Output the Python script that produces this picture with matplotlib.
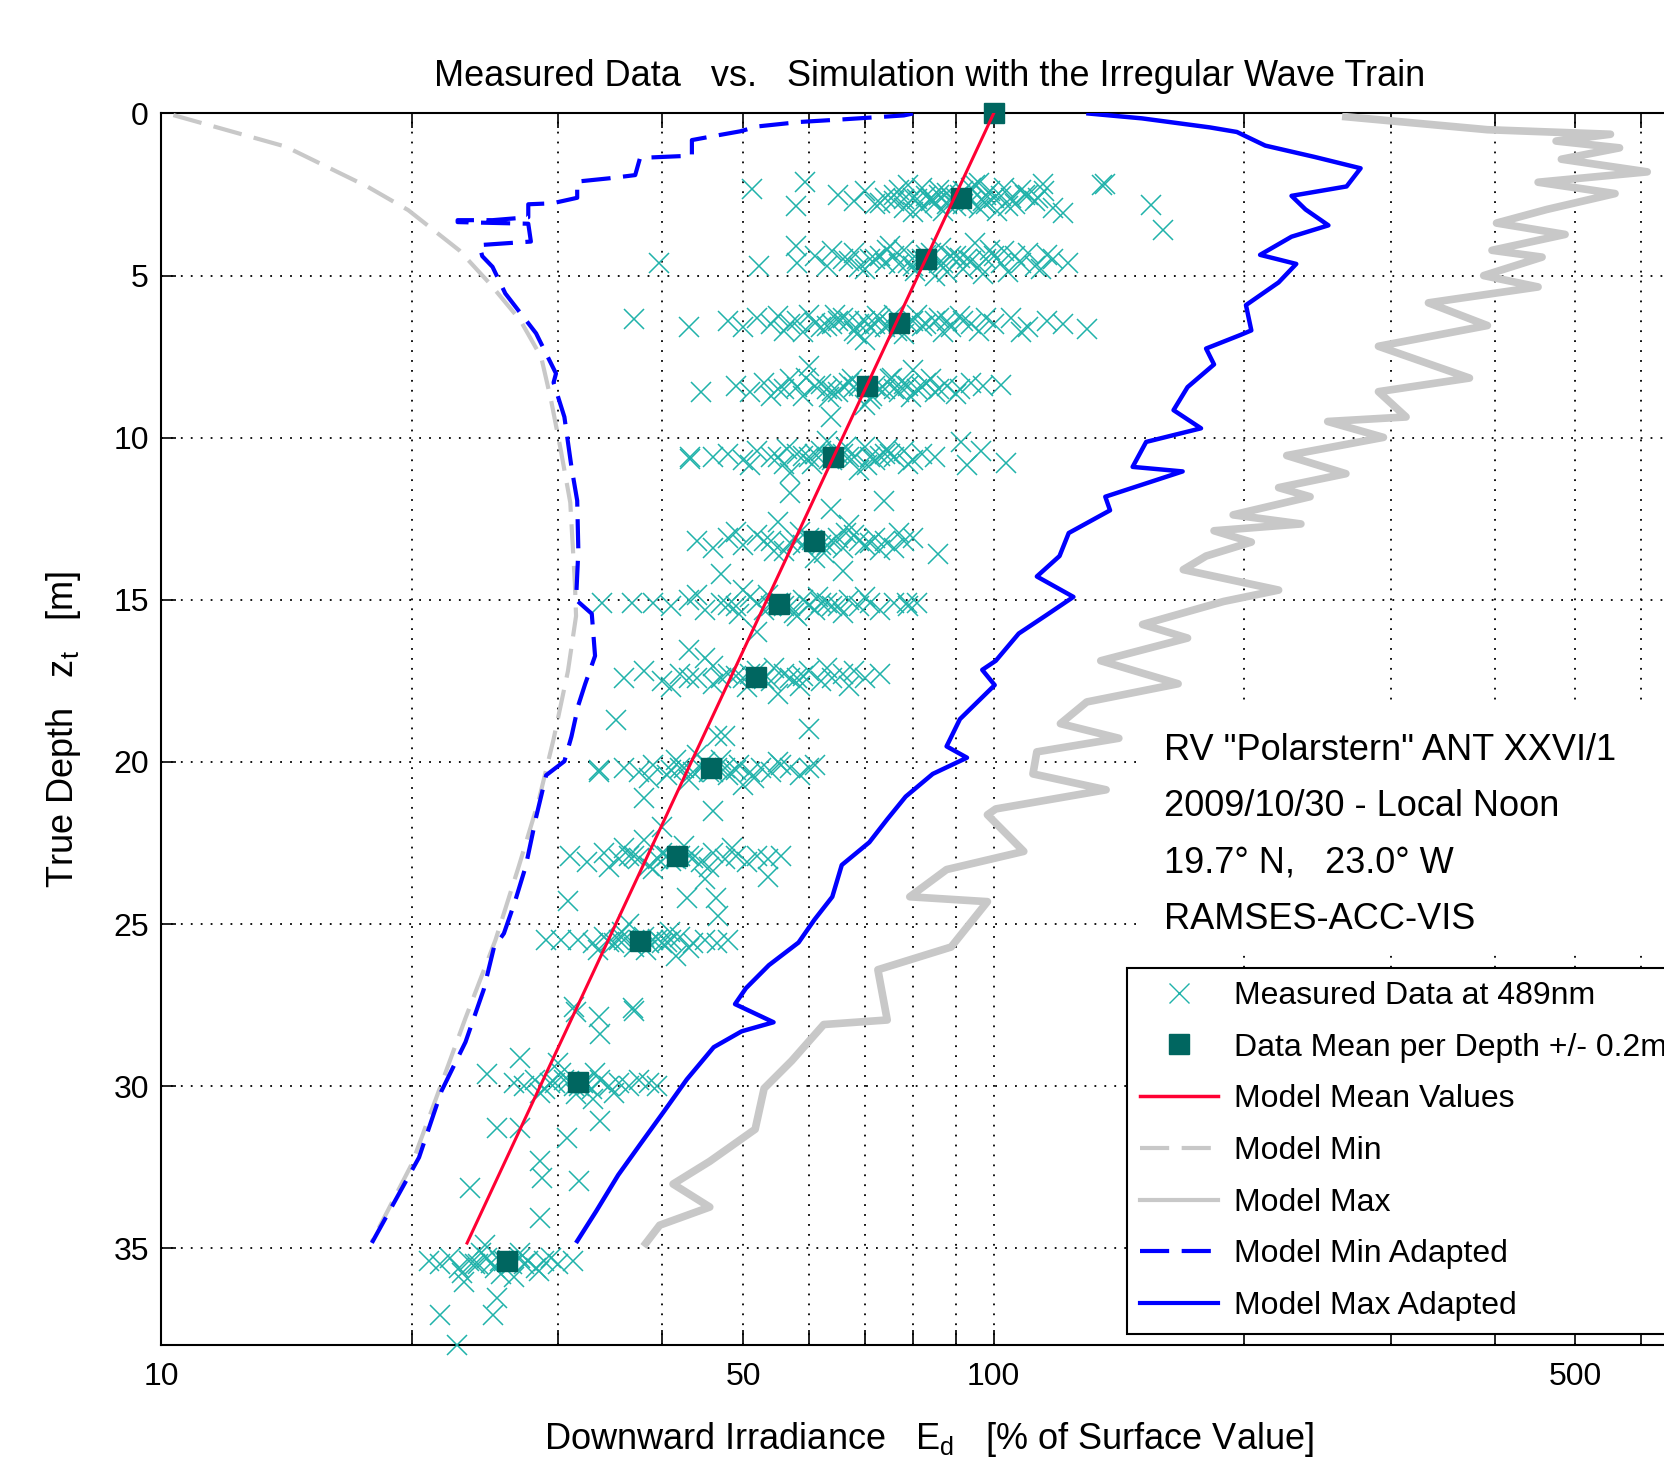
import matplotlib
matplotlib.use("Agg")
import matplotlib.pyplot as plt
from matplotlib.patches import Rectangle
from matplotlib.lines import Line2D
from matplotlib.ticker import NullLocator

plt.rcParams['font.family'] = ['Liberation Sans', 'DejaVu Sans']
plt.rcParams['mathtext.fontset'] = 'custom'
plt.rcParams['mathtext.rm'] = 'Liberation Sans'

# measured data at 489nm, grouped by depth level (x = % of surface, d = depth m)
meas_x_l1 = [65, 68, 70, 72, 74, 76, 78, 80, 82, 84, 86, 88, 90, 92, 94, 96, 98, 100, 103, 106,
             109, 112, 115, 118, 79, 87, 95, 101, 84, 91, 76, 99,
             81, 83, 85, 89, 93, 97, 102, 88, 92, 78, 105, 110,
             73, 77, 82, 86, 90, 94, 98, 104, 108, 113, 80, 96,
             51.2, 59.3, 57.9, 121, 136, 135, 154.5, 159.6, 114.5]
meas_d_l1 = [2.5, 2.7, 2.4, 2.8, 2.6, 2.5, 2.9, 2.6, 2.3, 2.7, 2.5, 2.8, 2.6, 2.4, 2.7, 2.9, 2.5, 2.6, 2.3, 2.8,
             2.5, 2.7, 2.4, 2.9, 2.2, 3.0, 2.2, 3.0, 2.6, 2.5, 2.7, 2.4,
             2.65, 2.55, 2.75, 2.6, 2.5, 2.7, 2.55, 2.45, 2.8, 2.65, 2.6, 2.5,
             2.75, 2.35, 2.9, 2.35, 2.85, 2.3, 2.8, 2.85, 2.35, 2.6, 3.05, 2.15,
             2.32, 2.1, 2.86, 3.08, 2.18, 2.22, 2.82, 3.59, 2.19]
meas_x_l2 = [58, 61, 63, 66, 68, 70, 72, 74, 76, 78, 80, 82, 84, 86, 88, 90, 93, 96, 99, 102,
             106, 110, 114, 118, 123, 75, 85, 95, 71, 79, 89, 104,
             67, 73, 77, 81, 83, 87, 91, 94, 98, 100, 108,
             64, 69, 74.5, 80.5, 86.5, 92, 97, 103, 112, 116,
             39.6, 52.2, 57.9]
meas_d_l2 = [4.6, 4.4, 4.7, 4.5, 4.3, 4.8, 4.5, 4.6, 4.4, 4.2, 4.7, 4.5, 4.3, 4.6, 4.9, 4.4, 4.5, 4.7, 4.2, 4.6,
             4.4, 4.3, 4.8, 4.5, 4.6, 4.1, 5.0, 4.0, 4.5, 4.6, 4.4, 4.9,
             4.55, 4.4, 4.65, 4.5, 4.35, 4.6, 4.45, 4.55, 4.5, 4.4, 4.6,
             4.25, 4.75, 4.2, 4.85, 4.15, 4.8, 4.95, 4.25, 4.7, 4.35,
             4.6, 4.7, 4.1]
meas_x_l3 = [48, 50, 52, 54, 56, 58, 60, 62, 64, 66, 68, 70, 72, 74, 76, 78, 80, 83, 86, 89,
             92, 96, 100, 105, 110, 116, 121, 70, 57, 65, 75, 88,
             61, 63, 67, 69, 71, 73, 77, 79, 82, 85, 94,
             55, 59, 64.5, 68.5, 72.5, 76.5, 81, 87, 91, 98, 108,
             37.0, 43.0, 129.5]
meas_d_l3 = [6.4, 6.6, 6.3, 6.5, 6.7, 6.4, 6.2, 6.6, 6.5, 6.3, 6.7, 6.4, 6.5, 6.6, 6.2, 6.8, 6.4, 6.5, 6.3, 6.6,
             6.4, 6.7, 6.5, 6.3, 6.6, 6.4, 6.5, 7.0, 6.5, 6.4, 6.5, 6.4,
             6.45, 6.55, 6.4, 6.5, 6.6, 6.35, 6.5, 6.45, 6.55, 6.4, 6.5,
             6.25, 6.75, 6.2, 6.8, 6.25, 6.7, 6.2, 6.75, 6.25, 6.3, 6.75,
             6.33, 6.6, 6.65]
meas_x_l4 = [49, 51, 53, 55, 57, 59, 61, 63, 65, 67, 69, 71, 73, 75, 77, 79, 81, 83, 85, 88,
             91, 94, 97, 60, 70, 80, 56, 66, 74,
             58, 62, 64, 68, 72, 76, 78, 82, 86,
             54, 59.5, 63.5, 67.5, 71.5, 75.5, 79.5, 84, 90,
             102, 44.5, 63.7]
meas_d_l4 = [8.4, 8.6, 8.3, 8.5, 8.2, 8.7, 8.4, 8.5, 8.6, 8.3, 8.4, 8.8, 8.5, 8.2, 8.6, 8.4, 8.5, 8.3, 8.6, 8.4,
             8.5, 8.3, 8.4, 7.8, 9.0, 7.9, 8.5, 8.4, 8.5,
             8.45, 8.35, 8.55, 8.45, 8.4, 8.5, 8.35, 8.45, 8.5,
             8.7, 8.15, 8.75, 8.2, 8.7, 8.15, 8.75, 8.2, 8.65,
             8.38, 8.6, 9.36]
meas_x_l5 = [46, 48, 50, 52, 54, 56, 58, 60, 62, 64, 66, 68, 70, 72, 74, 76, 78, 80, 82, 85,
             57, 63, 69, 55, 61, 67,
             59, 63.5, 65, 71, 73, 75,
             51, 56.5, 60.5, 66.5, 70.5, 74.5, 79,
             43.2, 43.2, 91.3, 96.7, 103.6, 93, 57, 73.8, 63.7]
meas_d_l5 = [10.6, 10.5, 10.7, 10.4, 10.6, 10.8, 10.5, 10.6, 10.4, 10.7, 10.5, 10.6, 10.3, 10.7, 10.5, 10.6,
             10.4, 10.7, 10.5, 10.6, 11.1, 10.1, 11.0, 10.6, 10.5, 10.6,
             10.55, 10.65, 10.5, 10.6, 10.55, 10.5,
             10.85, 10.35, 10.8, 10.3, 10.85, 10.35, 10.8,
             10.66, 10.6, 10.12, 10.4, 10.77, 10.85, 11.7, 11.96, 12.2]
meas_x_l6 = [44, 46, 48, 50, 52, 54, 56, 58, 60, 62, 64, 66, 68, 70, 72, 74, 76, 78, 80, 55,
             61, 67, 53, 59, 65,
             57, 60.5, 63, 69, 71,
             49, 54.5, 58.5, 62.5, 66.5, 73, 77,
             85.7, 66]
meas_d_l6 = [13.2, 13.4, 13.1, 13.3, 13.0, 13.2, 13.5, 13.2, 13.1, 13.3, 13.2, 13.4, 13.0, 13.3, 13.1, 13.2,
             13.4, 13.2, 13.1, 12.6, 13.7, 12.7, 13.2, 13.3, 13.1,
             13.25, 13.15, 13.3, 13.2, 13.25,
             12.9, 13.5, 12.9, 13.55, 12.95, 13.45, 12.95,
             13.59, 14.1]
meas_x_l7 = [39, 41, 43, 45, 47, 49, 51, 53, 55, 57, 59, 61, 63, 65, 67, 69, 71, 73, 76, 79,
             81, 50, 58, 52, 56, 62,
             48, 54, 55.5, 60, 64,
             44, 49.5, 53.5, 57.5, 61.5, 66, 70,
             33.8, 36.8, 47, 52, 78.8]
meas_d_l7 = [15.1, 15.2, 15.0, 15.3, 15.1, 15.2, 14.9, 15.3, 15.1, 15.2, 15.0, 15.3, 15.1, 15.2, 15.0, 15.2,
             15.1, 15.3, 15.1, 15.2, 15.1, 14.7, 15.5, 15.1, 15.2, 15.1,
             15.15, 15.2, 15.1, 15.15, 15.2,
             14.85, 15.45, 14.85, 15.4, 14.9, 15.4, 14.9,
             15.1, 15.1, 14.2, 16.0, 15.1]
meas_x_l8 = [36, 38, 40, 42, 44, 46, 48, 50, 52, 54, 56, 58, 60, 62, 64, 66, 68, 70, 73, 45,
             55, 47, 51, 57,
             49, 53, 59, 43,
             41, 46, 50.5, 54.5, 58.5, 63, 67,
             35.2, 60, 43.1, 46.5]
meas_d_l8 = [17.4, 17.2, 17.5, 17.3, 17.4, 17.6, 17.3, 17.4, 17.2, 17.5, 17.3, 17.4, 17.2, 17.5, 17.4, 17.3,
             17.2, 17.4, 17.3, 16.8, 17.9, 17.4, 17.3, 17.4,
             17.35, 17.45, 17.35, 17.4,
             17.7, 17.05, 17.7, 17.1, 17.65, 17.1, 17.65,
             18.7, 19.0, 16.55, 19.2]
meas_x_l9 = [36, 37.5, 39, 40.5, 42, 43.5, 45, 46.5, 48, 49.5, 51, 52.5, 54, 55.5, 57, 58.5, 60, 61, 44, 50,
             42.5, 45.5, 47.5,
             41, 44.5, 46, 49,
             38.5, 41.5, 43, 47, 51.5, 55,
             33.6, 33.6, 38, 46, 47.5]
meas_d_l9 = [20.2, 20.3, 20.1, 20.4, 20.2, 20.3, 20.0, 20.2, 20.4, 20.1, 20.3, 20.2, 20.3, 20.1, 20.2, 20.4,
             20.2, 20.1, 19.8, 20.7, 20.2, 20.3, 20.2,
             20.25, 20.2, 20.3, 20.25,
             20.5, 19.95, 20.55, 19.95, 20.5, 20.0,
             20.25, 20.3, 21.1, 21.5, 19.2]
meas_x_l10 = [31, 32.5, 34, 35.5, 37, 38.5, 40, 41.5, 43, 44.5, 46, 47.5, 49, 50.5, 52, 53.5, 55.6, 38, 45,
              36.5, 39.5, 42,
              37.5, 40.5, 41, 43.5,
              34.5, 36, 39, 42.5, 45.5, 48.5,
              53.5, 30.8, 42.8, 46.4, 46.6, 40]
meas_d_l10 = [22.9, 23.1, 22.8, 23.0, 22.9, 23.2, 22.8, 23.0, 22.9, 23.1, 22.8, 23.0, 22.9, 23.1, 22.9, 23.0,
              22.9, 22.4, 23.6, 22.9, 23.0, 22.9,
              22.95, 22.9, 23.05, 22.95,
              23.25, 22.65, 23.3, 22.6, 23.25, 22.65,
              23.55, 24.3, 24.2, 24.2, 24.75, 22.0]
meas_x_l11 = [31.7, 33, 34, 35, 36, 37, 38, 39, 40, 41, 42, 43.5, 45, 46.5, 48, 36.5, 41.5, 35.5, 38.5,
              34.5, 37.5, 39.5, 40.5,
              33.5, 35.8, 38.2, 40.8, 43,
              29.0, 30.2, 31.3, 33.6, 37.0, 31.5, 36.9, 33.7]
meas_d_l11 = [25.5, 25.6, 25.4, 25.6, 25.5, 25.7, 25.4, 25.5, 25.6, 25.5, 25.4, 25.6, 25.5, 25.6, 25.5, 25.0,
              26.0, 25.5, 25.6,
              25.55, 25.5, 25.45, 25.55,
              25.8, 25.25, 25.8, 25.25, 25.75,
              25.5, 25.5, 27.56, 27.88, 27.67, 27.7, 27.58, 28.4]
meas_x_l12 = [26.5, 27.3, 28.1, 28.9, 29.7, 30.5, 31.3, 32.1, 32.9, 33.7, 34.5, 35.5, 36.5, 37.5, 38.5, 39.4,
              30, 33, 29.3, 31.8, 30.9, 32.5,
              28.5, 30.2, 31.5, 33.2, 35,
              27.0, 24.6, 33.7, 25.3, 27.0, 30.7, 28.5, 28.7, 31.8, 23.5, 28.5]
meas_d_l12 = [29.9, 30.0, 29.8, 30.1, 29.9, 29.8, 30.0, 29.9, 30.1, 29.8, 30.0, 29.9, 30.0, 29.8, 29.9, 30.0,
              29.3, 30.4, 29.9, 30.0, 29.85, 29.95,
              30.2, 29.6, 30.25, 29.6, 30.2,
              29.13, 29.64, 31.08, 31.29, 31.29, 31.6, 32.32, 32.84, 32.94, 33.15, 34.07]
meas_x_l13 = [21, 21.6, 22.2, 22.8, 23.4, 24, 24.6, 25.2, 25.8, 26.4, 27, 27.6, 28.2, 28.8, 29.4, 30, 31.2,
              24.5, 26.5, 25.5, 23.8, 24.9, 26.1, 27.3,
              23, 24.2, 25.6, 27, 28.4,
              23.1, 21.6, 22.65, 25.0, 25.3]
meas_d_l13 = [35.4, 35.5, 35.3, 35.6, 35.4, 35.5, 35.3, 35.6, 35.4, 35.5, 35.3, 35.4, 35.6, 35.4, 35.3, 35.5,
              35.4, 34.9, 35.9, 35.4, 35.5, 35.45, 35.35, 35.5,
              35.75, 35.15, 35.8, 35.15, 35.7,
              36.03, 37.05, 37.98, 37.05, 36.54]

# data mean per depth
mean_x = [100, 91.3, 82.9, 77.0, 70.5, 64.2, 60.9, 55.3, 51.8, 45.7, 41.6, 37.6, 31.7, 26.0]
mean_d = [0, 2.62, 4.49, 6.46, 8.42, 10.59, 13.18, 15.14, 17.37, 20.19, 22.91, 25.53, 29.86, 35.4]

# model mean values
model_mean_x = [100, 23.3]
model_mean_d = [0, 34.84]

# model min
model_min_x = [10.34, 14.1, 17.7, 19.8, 22.8, 24.8, 27.0, 28.6, 29.4, 30.2, 31.0, 31.4, 31.5, 30.8,
               29.6, 28.4, 26.9, 25.2, 23.2, 21.3, 20.0, 17.9]
model_min_d = [0.05, 1.02, 2.26, 2.98, 4.22, 5.24, 6.38, 7.51, 8.85, 10.39, 12.0, 14.5, 15.5, 17.2,
               19.3, 21.2, 23.2, 25.5, 27.9, 30.5, 32.4, 34.8]

# model max
model_max_x = [265, 392, 551, 474, 565, 481, 610, 451, 558, 462, 402, 486, 397, 456, 388, 451, 333, 392,
               290, 373, 290, 313, 252, 294, 225, 265, 220, 240, 194, 234, 184, 204, 180, 169, 220, 189,
               151, 171, 134.5, 166.6, 129.4, 120.3, 141.4, 112.7, 111.5, 136.5, 100.6, 98.3, 108.7, 87.8,
               79.3, 98.3, 88.9, 72.6, 74.5, 62.5, 57.2, 53.0, 51.7, 45.6, 41.2, 45.6, 39.7, 38.2]
model_max_d = [0.1, 0.5, 0.64, 0.85, 1.06, 1.41, 1.8, 2.12, 2.47, 2.96, 3.38, 3.73, 4.22, 4.43, 5.0, 5.35,
               5.84, 6.54, 7.18, 8.16, 8.58, 9.36, 9.5, 9.99, 10.55, 11.11, 11.54, 11.82, 12.38, 12.66,
               12.87, 13.22, 13.65, 14.07, 14.7, 15.05, 15.76, 16.18, 16.88, 17.59, 18.15, 18.82, 19.27,
               19.69, 20.37, 20.86, 21.45, 21.63, 22.76, 23.32, 24.16, 24.31, 25.71, 26.41, 27.96, 28.1,
               29.22, 30.07, 31.33, 32.32, 33.02, 33.73, 34.29, 34.85]

# model min adapted
model_min_ad_x = [80, 78, 66, 58.6, 52, 49.6, 46, 43.4, 43.4, 37.6, 37.1, 34.5, 31.6, 31.6, 29.5, 27.6,
                  27.6, 25, 22.7, 22.7, 27.6, 27.8, 24.1, 24.3, 25.0, 25.9, 28.2, 29.8, 29.6, 30.5, 31.1,
                  31.6, 31.7, 31.5, 32.9, 33.2, 32.3, 31.7, 31.1, 30.5, 29.0, 28.2, 27.4, 26.6, 25.8,
                  25.1, 24.4, 23.2, 21.7, 20.4, 17.9]
model_min_ad_d = [0.0, 0.06, 0.18, 0.26, 0.4, 0.55, 0.7, 0.82, 1.3, 1.37, 1.9, 2.0, 2.1, 2.6, 2.77, 2.8,
                  3.2, 3.29, 3.29, 3.35, 3.4, 3.95, 4.06, 4.4, 4.73, 5.55, 6.78, 8.02, 8.3, 9.36, 10.9,
                  11.94, 13.48, 15.0, 15.43, 16.73, 17.6, 18.25, 19.22, 19.98, 20.41, 21.71, 23.23, 24.31,
                  25.29, 25.72, 27.02, 28.64, 30.16, 32.2, 34.84]

# model max adapted
model_max_ad_x = [130, 150.7, 182, 196, 212, 243, 276, 265.5, 228, 237, 252.5, 228, 209, 231, 220, 201,
                  204, 198, 180, 184, 171, 164.5, 177.5, 152.5, 146.9, 168.7, 136.2, 138, 123.1, 120,
                  112.7, 124.7, 115.6, 107.2, 100.6, 96.9, 100.3, 91.1, 87.8, 92.9, 84.5, 78.4, 74.5,
                  70.9, 65.7, 64.0, 60.9, 58.3, 53.7, 50.4, 48.9, 54.4, 49.8, 46.1, 42.8, 40.2, 37.7,
                  35.4, 33.3, 31.6]
model_max_ad_d = [0.0, 0.15, 0.43, 0.57, 0.99, 1.34, 1.69, 2.25, 2.54, 2.96, 3.45, 3.8, 4.36, 4.64, 5.21,
                  5.91, 6.69, 6.83, 7.25, 7.74, 8.44, 9.15, 9.71, 10.13, 10.9, 11.04, 11.82, 12.24,
                  12.94, 13.65, 14.28, 14.91, 15.48, 16.04, 16.88, 17.16, 17.63, 18.68, 19.52, 19.87,
                  20.37, 21.07, 21.77, 22.48, 23.18, 24.16, 24.87, 25.57, 26.27, 26.98, 27.47, 28.03,
                  28.31, 28.8, 29.79, 30.77, 31.76, 32.74, 33.86, 34.78]

info_lines = ['RV "Polarstern" ANT XXVI/1', '2009/10/30 - Local Noon',
              '19.7\u00b0 N,   23.0\u00b0 W', 'RAMSES-ACC-VIS']
info_depths = [19.64, 21.37, 23.11, 24.85]

xtick_vals = [10, 20, 30, 40, 50, 60, 70, 80, 90, 100, 200, 300, 400, 500, 600]
xtick_labels = ['10', '', '', '', '50', '', '', '', '', '100', '', '', '', '500', '']
ytick_vals = [0, 5, 10, 15, 20, 25, 30, 35]

meas_x = (meas_x_l1 + meas_x_l2 + meas_x_l3 + meas_x_l4 + meas_x_l5 + meas_x_l6 + meas_x_l7
          + meas_x_l8 + meas_x_l9 + meas_x_l10 + meas_x_l11 + meas_x_l12 + meas_x_l13)
meas_d = (meas_d_l1 + meas_d_l2 + meas_d_l3 + meas_d_l4 + meas_d_l5 + meas_d_l6 + meas_d_l7
          + meas_d_l8 + meas_d_l9 + meas_d_l10 + meas_d_l11 + meas_d_l12 + meas_d_l13)

cyan = '#20B2AA'
teal = '#006660'
grey = '#C8C8C8'
blue = '#0000FF'
red = '#FF0033'

fig = plt.figure(figsize=(16.64, 14.59), dpi=100)
ax = fig.add_axes([0.09694, 0.0778, 0.92289, 0.84441])
ax.set_xscale('log')
ax.set_xlim(10, 700)
ax.set_ylim(38, 0)

ax.set_axisbelow(True)
ax.grid(True, which='major', color='black', linestyle=(0, (1, 4.5)), linewidth=1.3)

# white box behind the info text
ax.add_patch(Rectangle((150, 18.15), 900, 7.7, facecolor='white', edgecolor='none', zorder=1))

ax.plot(meas_x, meas_d, linestyle='none', marker='x', ms=14, mew=1.1, color=cyan,
        clip_on=False, zorder=3)
ax.plot(mean_x, mean_d, linestyle='none', marker='s', ms=15, color=teal, mec=teal,
        clip_on=False, zorder=4)
ax.plot(model_mean_x, model_mean_d, color=red, lw=2.2, zorder=5)
ax.plot(model_min_x, model_min_d, color=grey, lw=3, linestyle=(0, (7, 3)), zorder=3)
ax.plot(model_max_x, model_max_d, color=grey, lw=5.5, zorder=3)
ax.plot(model_min_ad_x, model_min_ad_d, color=blue, lw=3, linestyle=(0, (7, 3)), zorder=4)
ax.plot(model_max_ad_x, model_max_ad_d, color=blue, lw=3.2, zorder=4)

for txt, dep in zip(info_lines, info_depths):
    ax.text(160, dep, txt, fontsize=26, va='center', ha='left', zorder=6)

ax.set_xticks(xtick_vals)
ax.set_xticklabels(xtick_labels)
ax.xaxis.set_minor_locator(NullLocator())
ax.set_yticks(ytick_vals)
ax.tick_params(axis='both', which='both', direction='in', length=11, width=1.2,
               top=True, right=True, labelsize=23)
ax.tick_params(axis='x', pad=12)
ax.tick_params(axis='y', pad=9)
for sp in ax.spines.values():
    sp.set_linewidth(1.5)

ax.set_title('Measured Data   vs.   Simulation with the Irregular Wave Train', fontsize=26, pad=20)
ax.set_xlabel('Downward Irradiance   E$_\\mathregular{d}$   [% of Surface Value]', fontsize=26, labelpad=20)
ax.set_ylabel('True Depth   z$_\\mathregular{t}$   [m]', fontsize=26, labelpad=22)

handles = [
    Line2D([], [], linestyle='none', marker='x', ms=14, mew=1.0, color=cyan),
    Line2D([], [], linestyle='none', marker='s', ms=15, color=teal),
    Line2D([], [], color=red, lw=2.5),
    Line2D([], [], color=grey, lw=3, linestyle=(0, (7, 3))),
    Line2D([], [], color=grey, lw=3),
    Line2D([], [], color=blue, lw=3, linestyle=(0, (7, 3))),
    Line2D([], [], color=blue, lw=3),
]
labels = ['Measured Data at 489nm', 'Data Mean per Depth +/- 0.2m', 'Model Mean Values',
          'Model Min', 'Model Max', 'Model Min Adapted', 'Model Max Adapted']
leg = ax.legend(handles, labels, loc='lower left', bbox_to_anchor=(0.6773, 0.0857),
                bbox_transform=fig.transFigure, fontsize=23, frameon=True, fancybox=False,
                edgecolor='black', framealpha=1, borderpad=0.4, labelspacing=0.68,
                handlelength=2.45, handletextpad=0.5, borderaxespad=0)
leg.get_frame().set_linewidth(1.5)

fig.savefig('out.png', dpi=100)
